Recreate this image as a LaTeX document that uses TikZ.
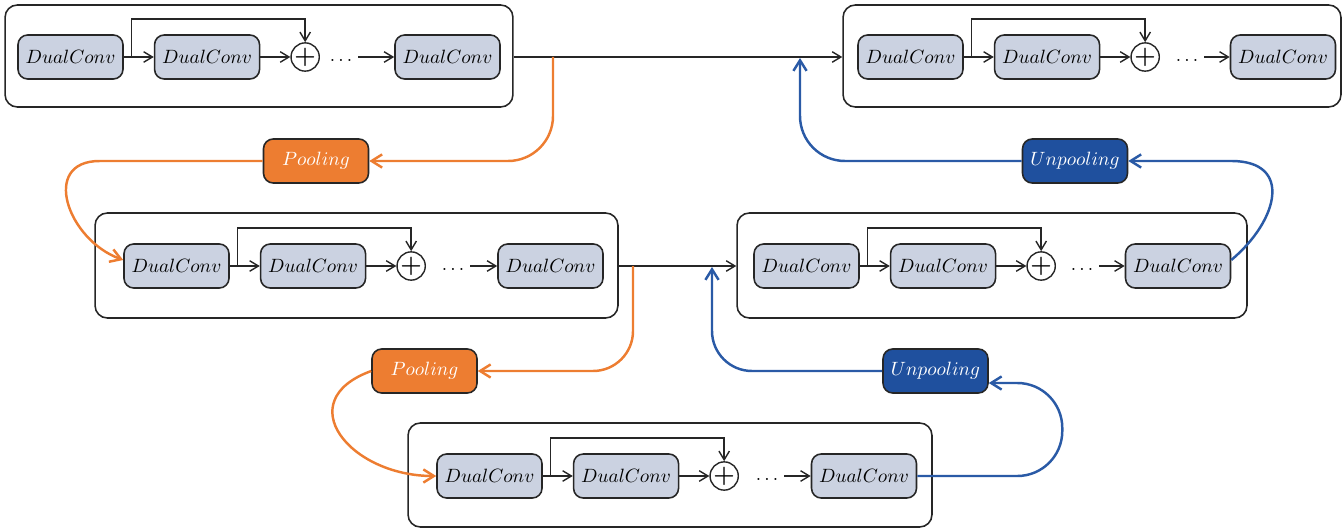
\documentclass[tikz,border=0pt]{standalone}
\usepackage{tikz}
\usetikzlibrary{arrows.meta, positioning}
\definecolor{convfill}{RGB}{203,210,225}
\definecolor{orange1}{RGB}{237,125,49}
\definecolor{blue1}{RGB}{31,80,158}
\definecolor{blue2}{RGB}{42,90,166}
\definecolor{gray1}{RGB}{38,38,38}

\begin{document}
\begin{tikzpicture}[x=0.02cm, y=-0.02cm, node distance=0.6cm, font=\fontsize{10.5}{12.6}\selectfont]

\tikzstyle{unit}		=[rectangle, rounded corners=5.5pt, draw=gray1, line width=0.9pt, minimum width=2.1cm, minimum height=0.88cm, inner sep=0pt]
\tikzstyle{dconv}		=[unit, fill=convfill]
\tikzstyle{pool}		=[unit, fill=orange1, text=white]
\tikzstyle{unpool}		=[unit, fill=blue1, text=white]
\tikzstyle{stage}		=[rectangle, rounded corners=7pt, draw=gray1, line width=0.9pt, inner sep=0pt]
\tikzstyle{addop}		=[circle, draw=gray1, line width=0.8pt, minimum size=0.54cm, inner sep=0pt, font=\fontsize{14}{14}\selectfont\bfseries]
\tikzstyle{more}		=[text height=1.5ex, text depth=.25ex]
\tikzstyle{connection}	=[draw=gray1, line width=0.8pt, -{Straight Barb[length=5pt, width=6pt]}]
\tikzstyle{poolline}	=[draw=orange1, line width=1.4pt, -{Straight Barb[length=6pt, width=7.5pt]}]
\tikzstyle{unpoolline}	=[draw=blue2, line width=1.4pt, -{Straight Barb[length=6pt, width=7.5pt]}]
\useasboundingbox (0,0) rectangle (1344,530);

% stages
\node[stage, minimum width=10.16cm, minimum height=2.04cm]	(s1) at (259,56)	{};
\node[stage, minimum width=9.96cm, minimum height=2.04cm]	(s2) at (1092,56)	{};
\node[stage, minimum width=10.46cm, minimum height=2.1cm]	(s3) at (356.5,265.5)	{};
\node[stage, minimum width=10.2cm, minimum height=2.1cm]	(s4) at (992,265.5)	{};
\node[stage, minimum width=10.48cm, minimum height=2.08cm]	(s5) at (670,475)	{};

% stage 1
\node[dconv] 				(b1c1) at (70.5,57)	{$DualConv$};
\node[dconv, right=of b1c1] 	(b1c2) 			{$DualConv$};
\node[addop, right=of b1c2]	(b1add) 			{+};
\node[more]				(b1dots) at (341,57)	{$\ldots$};
\node[dconv] 				(b1c3) at (447.5,57)	{$DualConv$};

% stage 2
\node[dconv] 				(b2c1) at (910.5,57)	{$DualConv$};
\node[dconv, right=of b2c1] 	(b2c2) 			{$DualConv$};
\node[addop, right=of b2c2]	(b2add) 			{+};
\node[more]				(b2dots) at (1187,57)	{$\ldots$};
\node[dconv] 				(b2c3) at (1283,57)	{$DualConv$};

% stage 3
\node[dconv] 				(b3c1) at (176.5,266)	{$DualConv$};
\node[dconv, right=of b3c1] 	(b3c2) 			{$DualConv$};
\node[addop, right=of b3c2]	(b3add) 			{+};
\node[more]				(b3dots) at (453,266)	{$\ldots$};
\node[dconv] 				(b3c3) at (550.5,266)	{$DualConv$};

% stage 4
\node[dconv] 				(b4c1) at (806.5,266)	{$DualConv$};
\node[dconv, right=of b4c1] 	(b4c2) 			{$DualConv$};
\node[addop, right=of b4c2]	(b4add) 			{+};
\node[more]				(b4dots) at (1082,266)	{$\ldots$};
\node[dconv] 				(b4c3) at (1178,266)	{$DualConv$};

% stage 5
\node[dconv] 				(b5c1) at (489.5,476)	{$DualConv$};
\node[dconv, right=of b5c1] 	(b5c2) 			{$DualConv$};
\node[addop, right=of b5c2]	(b5add) 			{+};
\node[more]				(b5dots) at (767,476)	{$\ldots$};
\node[dconv] 				(b5c3) at (864,476)	{$DualConv$};

% sampling
\node[pool]	(pool1) at (316,161)		{$Pooling$};
\node[pool]	(pool2) at (424.5,371)		{$Pooling$};
\node[unpool]	(unpool1) at (1075,161)	{$Unpooling$};
\node[unpool]	(unpool2) at (935.5,371)	{$Unpooling$};

\coordinate (p1src) at (553,57);
\coordinate (p2src) at (633,266);
\coordinate (u1dst) at (800,58);
\coordinate (u2dst) at (712,267);

\draw [connection]  (b1c1.east) -- (b1c2.west);
\draw [connection]  (b1c2.east) -- (b1add.west);
\draw [connection]  ([xshift=0.16cm]b1c1.east) -- ++(0,-38) -| (b1add.north);
\draw [connection]  (b1dots.east) -- (b1c3.west);

\draw [connection]  (b2c1.east) -- (b2c2.west);
\draw [connection]  (b2c2.east) -- (b2add.west);
\draw [connection]  ([xshift=0.16cm]b2c1.east) -- ++(0,-38) -| (b2add.north);
\draw [connection]  (b2dots.east) -- (b2c3.west);

\draw [connection]  (b3c1.east) -- (b3c2.west);
\draw [connection]  (b3c2.east) -- (b3add.west);
\draw [connection]  ([xshift=0.16cm]b3c1.east) -- ++(0,-38) -| (b3add.north);
\draw [connection]  (b3dots.east) -- (b3c3.west);

\draw [connection]  (b4c1.east) -- (b4c2.west);
\draw [connection]  (b4c2.east) -- (b4add.west);
\draw [connection]  ([xshift=0.16cm]b4c1.east) -- ++(0,-38) -| (b4add.north);
\draw [connection]  (b4dots.east) -- (b4c3.west);

\draw [connection]  (b5c1.east) -- (b5c2.west);
\draw [connection]  (b5c2.east) -- (b5add.west);
\draw [connection]  ([xshift=0.16cm]b5c1.east) -- ++(0,-38) -| (b5add.north);
\draw [connection]  (b5dots.east) -- (b5c3.west);

\draw [connection]  (b1c3 -| s1.east) -- (b1c3 -| s2.west);
\draw [connection]  (b3c3 -| s3.east) -- (b3c3 -| s4.west);

\draw [poolline, rounded corners=0.9cm]  (p1src) |- (pool1.east);
\draw [poolline]  (pool1.west) -- ++(-163,0) to[out=180, in=160, looseness=1.5] ([yshift=0.12cm]b3c1.west);
\draw [poolline, rounded corners=0.8cm]  (p2src) |- (pool2.east);
\draw [poolline]  (pool2.west) to[out=200, in=180, looseness=1.8] (b5c1.west);

\draw [unpoolline]  ([yshift=0.12cm]b4c3.east) to[out=40, in=0, looseness=1.6] ++(0,-99) -- (unpool1.east);
\draw [unpoolline, rounded corners=0.9cm]  (unpool1.west) -| (u1dst);
\draw [unpoolline, rounded corners=0.9cm]  (b5c3.east) -- ++(145,0) |- ([yshift=-0.24cm]unpool2.east);
\draw [unpoolline, rounded corners=0.8cm]  (unpool2.west) -| (u2dst);

\end{tikzpicture}
\end{document}
